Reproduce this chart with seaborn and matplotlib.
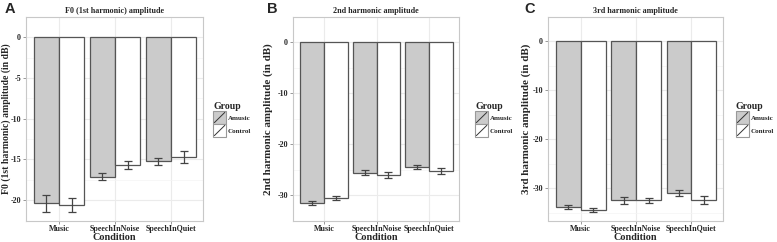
import numpy as np
import pandas as pd
import seaborn as sns
import matplotlib
matplotlib.use("Agg")
import matplotlib.pyplot as plt
from matplotlib.legend_handler import HandlerPatch
from matplotlib.patches import Rectangle
from matplotlib.lines import Line2D

conditions = ["Music", "SpeechInNoise", "SpeechInQuiet"]
groups = ["Amusic", "Control"]

# panel A: F0
f0_amusic = [-20.4, -17.1, -15.25]
f0_control = [-20.6, -15.7, -14.7]
f0_amusic_se = [1.05, 0.4, 0.45]
f0_control_se = [0.9, 0.5, 0.7]

# panel B: 2nd harmonic
h2_amusic = [-31.6, -25.6, -24.4]
h2_control = [-30.5, -26.0, -25.3]
h2_amusic_se = [0.45, 0.5, 0.4]
h2_control_se = [0.4, 0.6, 0.6]

# panel C: 3rd harmonic
h3_amusic = [-33.9, -32.5, -31.0]
h3_control = [-34.5, -32.5, -32.4]
h3_amusic_se = [0.4, 0.8, 0.6]
h3_control_se = [0.45, 0.5, 0.8]

titles = ["F0 (1st harmonic) amplitude", "2nd harmonic amplitude", "3rd harmonic amplitude"]
ylabels = ["F0 (1st harmonic) amplitude (in dB)", "2nd harmonic amplitude (in dB)",
           "3rd harmonic amplitude (in dB)"]
letters = ["A", "B", "C"]
yticks = [[0, -5, -10, -15, -20], [0, -10, -20, -30], [0, -10, -20, -30]]
ylims = [(-22.5, 1.25), (-33.6, 1.7), (-36.6, 2.1)]

panels = [
    (f0_amusic, f0_control, f0_amusic_se, f0_control_se),
    (h2_amusic, h2_control, h2_amusic_se, h2_control_se),
    (h3_amusic, h3_control, h3_amusic_se, h3_control_se),
]

sns.set_theme(style="white")
plt.rcParams["font.family"] = ["Liberation Serif", "DejaVu Serif"]
plt.rcParams["font.weight"] = "bold"

W, H = 777, 242
fig = plt.figure(figsize=(W / 100, H / 100), dpi=100)

axes_px = [(26, 203), (293, 459), (548, 723)]
top_px, bot_px = 17, 220.5
legend_x = [213, 475, 736]
letter_x = [10, 272, 530]
ylab_x = [6, 268, 526]
ylab_len = 152

fill = {"Amusic": "#CBCBCB", "Control": "#FFFFFF"}
edge = "#555555"


class DiagHandler(HandlerPatch):
    def create_artists(self, legend, orig_handle, xdescent, ydescent, width, height, fontsize, trans):
        r = Rectangle((-xdescent, -ydescent), width, height, facecolor=orig_handle.get_facecolor(),
                      edgecolor="#999999", lw=0.8, transform=trans)
        l = Line2D([-xdescent + 1, -xdescent + width - 1], [-ydescent + 1, -ydescent + height - 1],
                   color="#333333", lw=0.7, transform=trans)
        return [r, l]


axs = []
for i, (am, co, ams, cos) in enumerate(panels):
    l, r = axes_px[i]
    ax = fig.add_axes([l / W, 1 - bot_px / H, (r - l) / W, (bot_px - top_px) / H])
    axs.append(ax)
    df = pd.DataFrame({
        "Condition": conditions * 2,
        "Group": ["Amusic"] * 3 + ["Control"] * 3,
        "value": list(am) + list(co),
        "se": list(ams) + list(cos),
    })
    sns.barplot(data=df, x="Condition", y="value", hue="Group", order=conditions,
                hue_order=groups, palette=fill, edgecolor=edge, linewidth=0.9,
                width=0.9, errorbar=None, ax=ax, legend=False, zorder=3)
    bars = [p for p in ax.patches if isinstance(p, Rectangle)][:6]
    for gi, g in enumerate(groups):
        sub = df[df["Group"] == g].set_index("Condition").loc[conditions]
        xs = [bars[gi * 3 + k].get_x() + bars[gi * 3 + k].get_width() / 2 for k in range(3)]
        ax.errorbar(xs, sub["value"], yerr=sub["se"], fmt="none", ecolor="#444444",
                    elinewidth=0.9, capsize=3.0, capthick=0.9, zorder=4)
    ax.set_ylim(*ylims[i])
    ax.set_xlim(-0.59, 2.57)
    yt = yticks[i]
    ax.set_yticks(yt)
    ax.set_yticklabels([str(t) for t in yt])
    step = yt[0] - yt[1]
    minor = [t - step / 2 for t in yt] + [yt[0] + step / 2]
    ax.set_yticks(minor, minor=True)
    ax.grid(True, which="major", color="#EBEBEB", lw=0.8, zorder=0)
    ax.grid(True, which="minor", axis="y", color="#F4F4F4", lw=0.5, zorder=0)
    ax.set_axisbelow(True)
    for s in ax.spines.values():
        s.set_color("#C8C8C8")
        s.set_linewidth(0.8)
    ax.tick_params(axis="both", which="major", length=2, width=0.6, color="#888888",
                   labelsize=5.8, pad=1.5, bottom=True, left=True)
    ax.tick_params(axis="y", which="minor", length=0)
    for lab in ax.get_xticklabels() + ax.get_yticklabels():
        lab.set_fontweight("bold")
    ax.set_xlabel("Condition", fontsize=7.3, fontweight="bold", labelpad=0)
    ax.set_ylabel(ylabels[i], fontweight="bold", fontsize=7)
    ax.yaxis.set_label_coords((ylab_x[i] - l) / (r - l), 0.5)
    ax.yaxis.label.set_va("center")
    ax.set_title(titles[i], fontsize=5.9, fontweight="bold", pad=3)
    fig.text(letter_x[i] / W, 1 - 9 / H, letters[i], fontsize=10.5, fontweight="bold",
             family="Liberation Sans", va="center", ha="center")
    handles = [Rectangle((0, 0), 1, 1, facecolor=fill[g]) for g in groups]
    leg = fig.legend(handles, groups, title="Group", handler_map={Rectangle: DiagHandler()},
                     loc="upper left", bbox_to_anchor=(legend_x[i] / W, 1 - 102 / H),
                     frameon=False, fontsize=5.0, title_fontsize=7.0, handlelength=1.9,
                     handleheight=2.5, handletextpad=0.2, labelspacing=0.0,
                     borderpad=0.0, borderaxespad=0.0, alignment="left")
    leg.get_title().set_fontweight("bold")
    for t in leg.get_texts():
        t.set_fontweight("bold")

# fit y-label lengths to the reference extent
fig.canvas.draw()
rend = fig.canvas.get_renderer()
for ax in axs:
    lab = ax.yaxis.label
    h = lab.get_window_extent(rend).height
    lab.set_fontsize(lab.get_fontsize() * ylab_len / h)

fig.savefig("out.png", dpi=100)
